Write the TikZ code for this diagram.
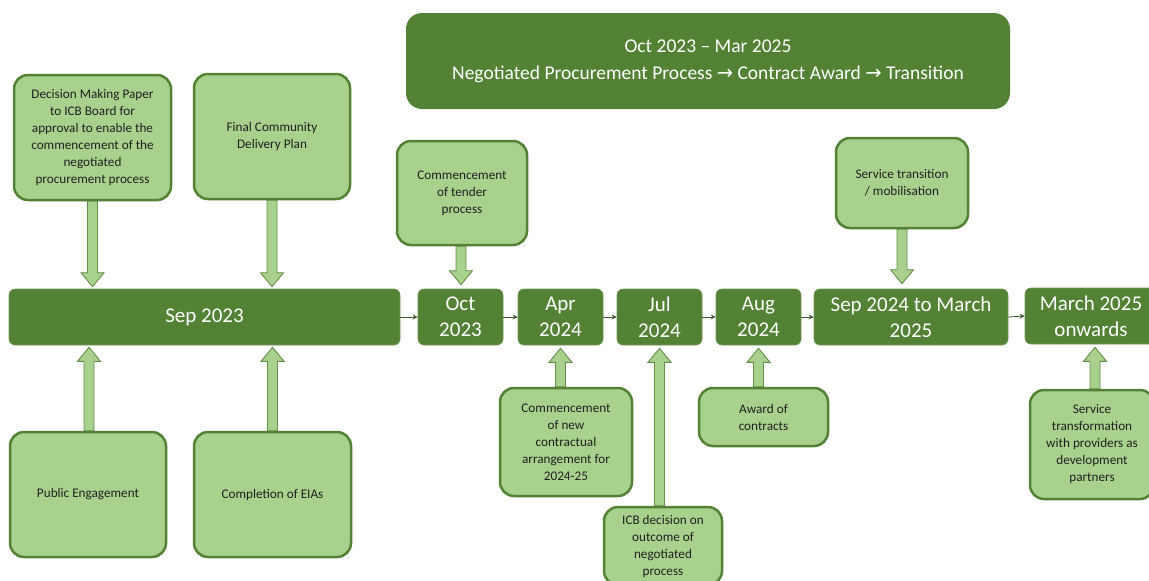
\documentclass[tikz,border=0pt]{standalone}
\usepackage{fontspec}
\setmainfont{Carlito}
\newfontfamily\symfont{DejaVu Sans}
\usetikzlibrary{calc,backgrounds,arrows.meta}
\definecolor{dkg}{HTML}{548235}
\definecolor{ltg}{HTML}{A9D18E}
\definecolor{txt}{HTML}{202020}
\definecolor{lnk}{HTML}{3F5A2E}
\tikzset{
 lbox/.style={rectangle, rounded corners=14pt, fill=ltg, draw=dkg, line width=2.5pt, text=txt, align=center, font=\fontsize{13.2}{17}\selectfont, inner sep=1pt},
 tbox/.style={rectangle, rounded corners=6pt, fill=dkg, draw=dkg!85!white, line width=0.6pt, text=white, align=center, font=\fontsize{21}{26}\selectfont, inner sep=1pt},
 banner/.style={rectangle, rounded corners=16pt, fill=dkg, text=white, align=center, font=\fontsize{19.5}{27}\selectfont},
 barrow/.style={fill=ltg, draw=dkg!90!white, line width=0.9pt},
 link/.style={draw=lnk, line width=0.8pt, -{Stealth[length=5pt,width=5pt]}},
}
\newcommand{\blockarrow}[3]{%
 \draw[barrow] let \p1=(#1), \p2=(#2) in
 ({\x2-5pt},\y1) -- ({\x2-5pt},{\y2-(#3)*14pt}) -- ({\x2-11.5pt},{\y2-(#3)*14pt}) -- (\x2,\y2) -- ({\x2+11.5pt},{\y2-(#3)*14pt}) -- ({\x2+5pt},{\y2-(#3)*14pt}) -- ({\x2+5pt},\y1) -- cycle;}
\begin{document}
\begin{tikzpicture}[x=1pt,y=-1pt]
\useasboundingbox (0,0) rectangle (1149,581);

% banner
\node[banner, minimum width=604, minimum height=96] (ban) at (708,61) {Oct 2023 – Mar 2025\\Negotiated Procurement Process {\symfont→} Contract Award {\symfont→} Transition};

% timeline
\node[tbox, minimum width=391, minimum height=56] (sep) at (204.5,317) {Sep 2023};
\node[tbox, minimum width=85, minimum height=56] (oct) at (460.5,317) {Oct\\2023};
\node[tbox, minimum width=85, minimum height=56] (apr) at (560.5,317) {Apr\\2024};
\node[tbox, minimum width=85, minimum height=56] (jul) at (659.5,317) {Jul\\2024};
\node[tbox, minimum width=85, minimum height=56] (aug) at (758.5,317) {Aug\\2024};
\node[tbox, minimum width=194, minimum height=56] (sepm) at (911,317) {Sep 2024 to March\\2025};
\node[tbox, minimum width=132, minimum height=56] (mar) at (1091,316) {March 2025\\onwards};

\draw[link] (sep.east) -- (oct.west);
\draw[link] (oct.east) -- (apr.west);
\draw[link] (apr.east) -- (jul.west);
\draw[link] (jul.east) -- (aug.west);
\draw[link] (aug.east) -- (sepm.west);
\draw[link] (sepm.east) -- (mar.west);

% light boxes
\node[lbox, minimum width=157, minimum height=125] (dec) at (92.5,137.5) {Decision Making Paper\\to ICB Board for\\approval to enable the\\commencement of the\\negotiated\\procurement process};
\node[lbox, minimum width=156, minimum height=125] (fcdp) at (272,136.5) {Final Community\\Delivery Plan};
\node[lbox, minimum width=130, minimum height=104] (tender) at (462,193) {Commencement\\of tender\\process};
\node[lbox, minimum width=132, minimum height=90] (svct) at (902,183) {Service transition\\/ mobilisation};
\node[lbox, minimum width=156, minimum height=125] (pub) at (88,494.5) {Public Engagement};
\node[lbox, minimum width=157, minimum height=125] (eias) at (272.5,494.5) {Completion of EIAs};
\node[lbox, minimum width=132, minimum height=108] (comm) at (566,442) {Commencement\\of new\\contractual\\arrangement for\\2024-25};
\node[lbox, minimum width=118, minimum height=78] (icb) at (663,546) {ICB decision on\\outcome of\\negotiated\\process};
\node[lbox, minimum width=129, minimum height=58] (award) at (763.5,417) {Award of\\contracts};
\node[lbox, minimum width=124, minimum height=109] (svtr) at (1092,444.5) {Service\\transformation\\with providers as\\development\\partners};

% block arrows
\begin{pgfonlayer}{background}
\fill[white] (0,0) rectangle (1149,581);
\blockarrow{dec.south}{$(dec.south |- sep.north)+(0,-2)$}{-1}
\blockarrow{fcdp.south}{$(fcdp.south |- sep.north)+(0,-2)$}{-1}
\blockarrow{pub.north}{$(pub.north |- sep.south)+(1,2)$}{1}
\blockarrow{eias.north}{$(eias.north |- sep.south)+(0,2)$}{1}
\blockarrow{tender.south}{$(tender.south |- oct.north)+(-1,-4)$}{-1}
\blockarrow{svct.south}{$(svct.south |- sepm.north)+(0,-5)$}{-1}
\blockarrow{$(apr.south |- comm.north)$}{$(apr.south)+(0,3)$}{1}
\blockarrow{$(jul.south |- icb.north)$}{$(jul.south)+(0,3)$}{1}
\blockarrow{$(aug.south |- award.north)$}{$(aug.south)+(0,3)$}{1}
\blockarrow{$(mar.south |- svtr.north)+(4,0)$}{$(mar.south)+(4,3)$}{1}
\end{pgfonlayer}
\end{tikzpicture}
\end{document}
